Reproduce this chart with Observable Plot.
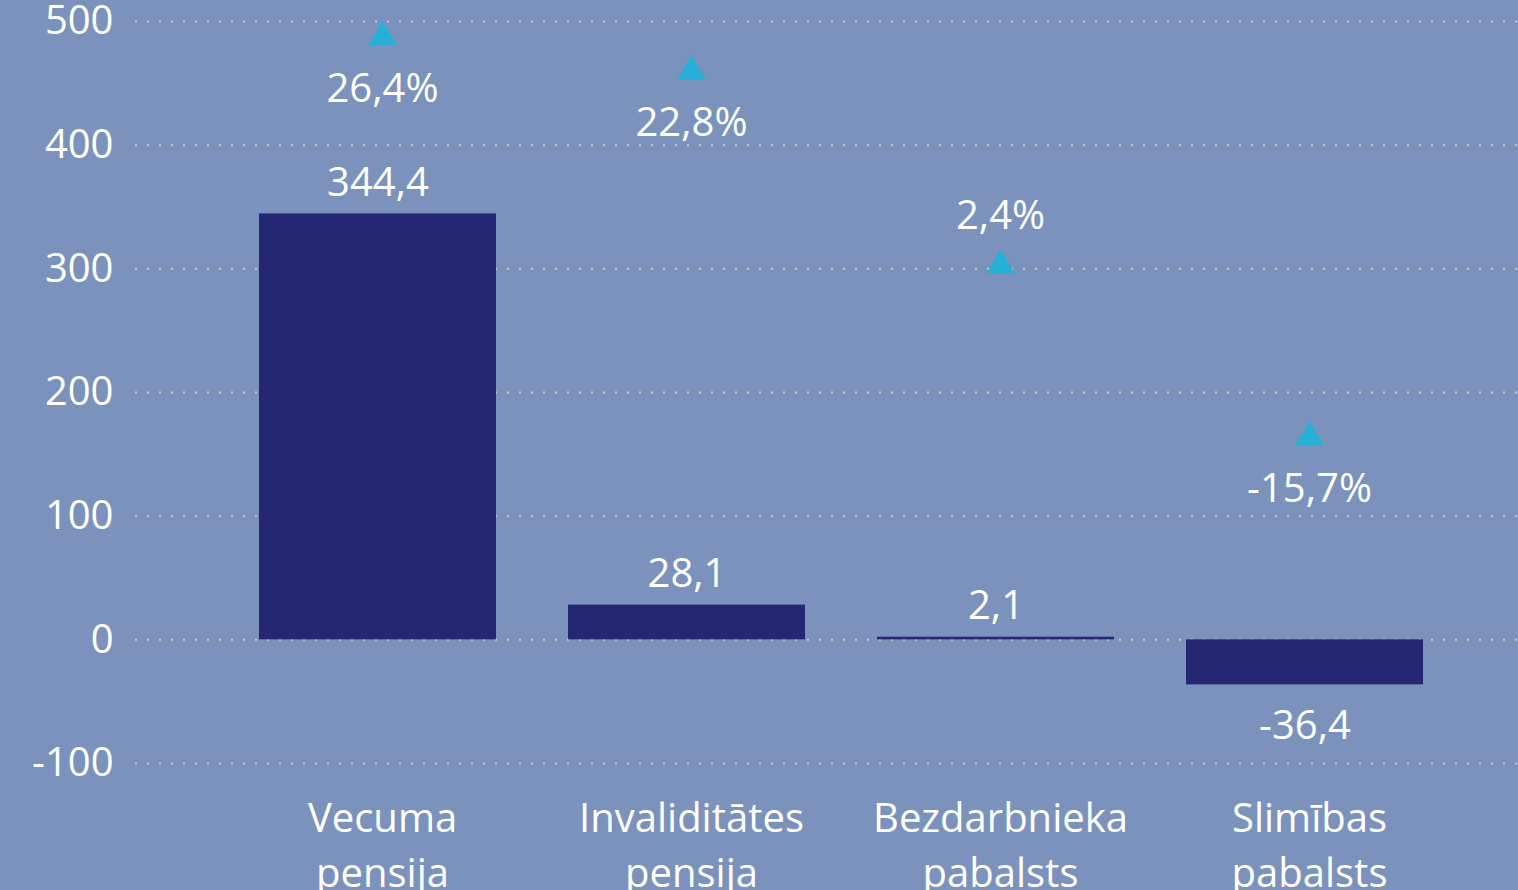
<!DOCTYPE html>
<html><head><meta charset="utf-8">
<script src="https://cdn.jsdelivr.net/npm/d3@7"></script>
<script src="https://cdn.jsdelivr.net/npm/@observablehq/plot@0.6"></script>
<style>html,body{margin:0;padding:0;background:#7b92bc;overflow:hidden}</style>
</head><body><div id="chart"></div>
<script>
const categories = ["Vecuma pensija", "Invaliditātes pensija", "Bezdarbnieka pabalsts", "Slimības pabalsts"];
const changeValues = [344.4, 28.1, 2.1, -36.4];
const growthPct = [26.4, 22.8, 2.4, -15.7];
const yTicks = [-100, 0, 100, 200, 300, 400, 500];
const yDomain = [-100, 500];
const pctAxisDomain = [-50, 28];   // hidden secondary axis for the triangles

const data = categories.map((c, i) => ({cat: c, value: changeValues[i], pct: growthPct[i]}));
const pctToY = d3.scaleLinear().domain(pctAxisDomain).range(yDomain);
const fmt = v => d3.format(".1f")(v).replace(".", ",").replace("−", "-");
const pfmt = v => fmt(v) + "%";

const FONT = 40;
const WHITE = "#ffffff";
// percent label sits above the marker for the near-zero positive bar
const pctAbove = d => d.value >= 0 && d.value < 10;

const chart = Plot.plot({
  width: 1518,
  height: 890,
  marginLeft: 135,
  marginRight: 0,
  marginTop: 21,
  marginBottom: 127,
  style: {background: "#7b92bc", color: WHITE, fontFamily: "'Open Sans', 'Noto Sans', sans-serif"},
  x: {type: "band", domain: categories, range: [223, 1459], paddingInner: 0.233, paddingOuter: 0.1165, label: null},
  y: {domain: yDomain, label: null},
  marks: [
    Plot.ruleY(yTicks, {stroke: "#cfc9b9", strokeWidth: 2, strokeDasharray: "2,10"}),
    Plot.barY(data, {x: "cat", y: "value", fill: "#252772"}),
    Plot.dot(data, {x: "cat", y: d => pctToY(d.pct), symbol: "triangle", r: 10.5, fill: "#27b0d5", stroke: null, dx: 4.5}),
    Plot.text(data.filter(d => d.value >= 0), {x: "cat", y: "value", text: d => fmt(d.value), dy: -31, fontSize: FONT, fill: WHITE}),
    Plot.text(data.filter(d => d.value < 0), {x: "cat", y: "value", text: d => fmt(d.value), dy: 41, fontSize: FONT, fill: WHITE}),
    Plot.text(data.filter(d => !pctAbove(d)), {x: "cat", y: d => pctToY(d.pct), text: d => pfmt(d.pct), dy: 52, dx: 4.5, fontSize: FONT, fill: WHITE}),
    Plot.text(data.filter(d => pctAbove(d)), {x: "cat", y: d => pctToY(d.pct), text: d => pfmt(d.pct), dy: -49, dx: 4.5, fontSize: FONT, fill: WHITE}),
    Plot.axisY(yTicks, {tickSize: 0, tickPadding: 22, fontSize: FONT, fill: WHITE, label: null, tickFormat: d => String(d).replace("−", "-")}),
    Plot.axisX({tickSize: 0, tickPadding: 29, fontSize: FONT, fill: WHITE, label: null, lineHeight: 1.375, dx: 4.5, tickFormat: d => d.replace(" ", "\n")})
  ]
});
document.getElementById("chart").appendChild(chart);
</script>
</body></html>
